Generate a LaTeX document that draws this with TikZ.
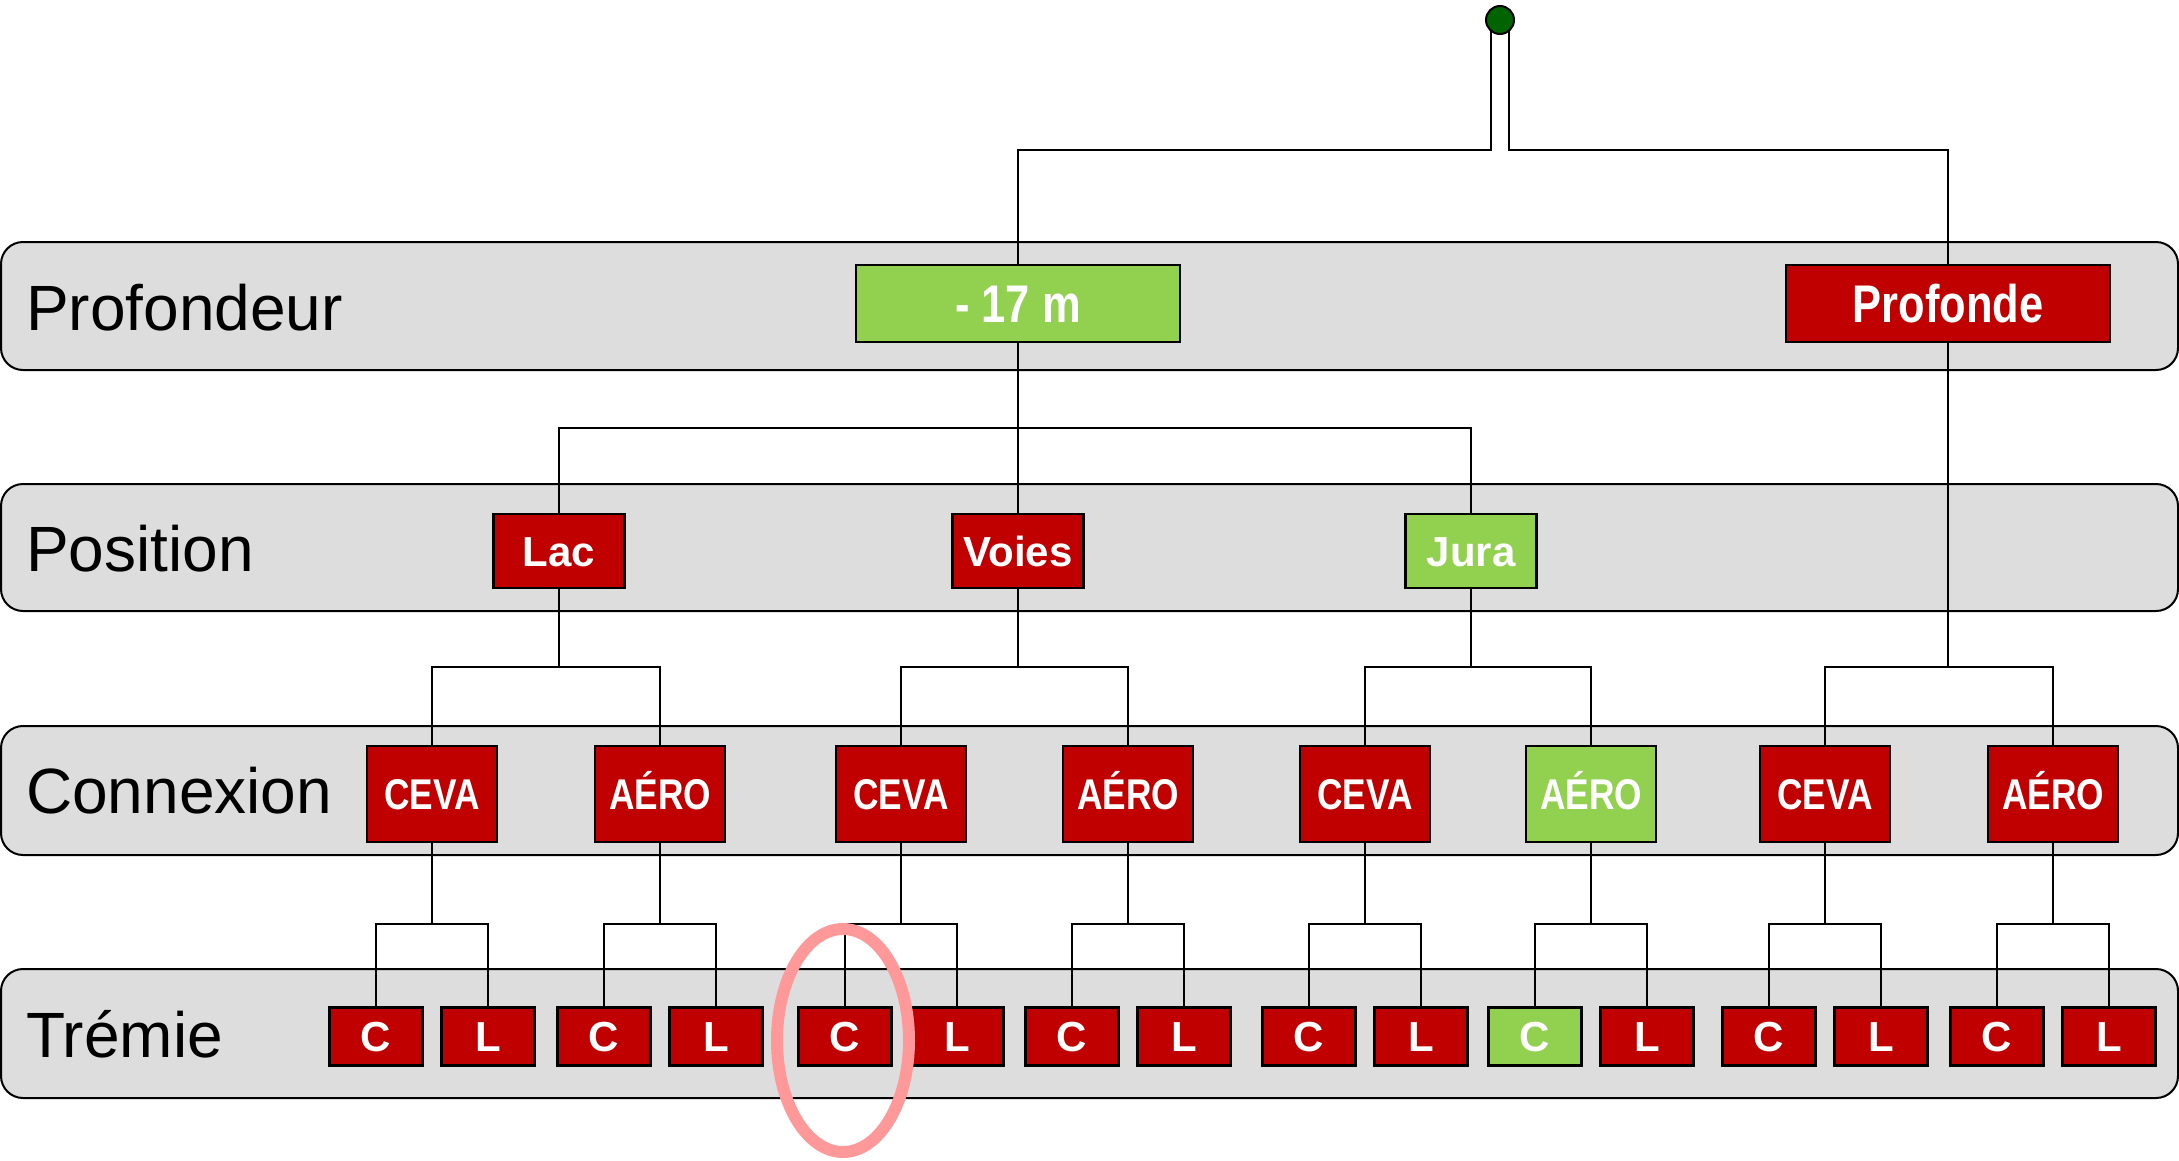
\documentclass[tikz,border=0pt]{standalone}
\usepackage{fontspec}
\setmainfont{Liberation Sans}
\definecolor{boxred}{RGB}{192,0,0}
\definecolor{boxgreen}{RGB}{146,208,80}
\definecolor{bandgray}{RGB}{221,221,221}
\definecolor{dotgreen}{RGB}{0,100,0}
\definecolor{pinkring}{RGB}{255,153,153}
\pgfdeclarelayer{bandlayer}
\pgfdeclarelayer{linelayer}
\pgfsetlayers{bandlayer,linelayer,main}
\newcommand\narrowtxt[1]{\scalebox{0.82}[1]{#1}}
\newcommand\treebranch[4]{%
  \draw[conn] (#1.south) -- (#1.south |- #4);
  \draw[conn] (#2.north) -- (#2.north |- #4) -- (#3.north |- #4) -- (#3.north);}
\begin{document}
\begin{tikzpicture}[x=1pt,y=-1pt,
  band/.style={draw=black, line width=2pt, fill=bandgray, rounded corners=22pt},
  conn/.style={draw=black, line width=2pt},
  lab/.style={anchor=base west, inner sep=0pt, font=\fontsize{64}{72}\selectfont},
  bx/.style={draw=black, line width=2.5pt, inner sep=0pt, text=white},
  bigbox/.style={bx, minimum width=324pt, minimum height=77pt, text height=38pt, text depth=0pt,
    font=\fontsize{53}{60}\selectfont\bfseries},
  posbox/.style={bx, minimum width=131pt, minimum height=74pt, text height=30pt, text depth=0pt,
    font=\fontsize{42}{48}\selectfont\bfseries},
  conbox/.style={bx, minimum width=130pt, minimum height=96pt, text height=31pt, text depth=0pt,
    font=\fontsize{43}{48}\selectfont\bfseries},
  trbox/.style={bx, minimum width=93pt, minimum height=58pt, text height=30pt, text depth=0pt,
    font=\fontsize{42}{48}\selectfont\bfseries},
]
\useasboundingbox (0,0) rectangle (2179,1160);
% bands
\begin{pgfonlayer}{bandlayer}
\draw[band] (1,242) rectangle (2178,370);
\draw[band] (1,484) rectangle (2178,611);
\draw[band] (1,726) rectangle (2178,855);
\draw[band] (1,969) rectangle (2178,1098);
\end{pgfonlayer}
% band labels
\node[lab] (lprof) at (26,330) {Profondeur};
\node[lab] (lpos) at (26,571.5) {Position};
\node[lab] (lcon) at (26,813) {Connexion};
\node[lab] (ltre) at (26,1057) {Trémie};
% level coordinates
\coordinate (y0) at (0,150);
\coordinate (y1) at (0,428);
\coordinate (y2) at (0,667);
\coordinate (y3) at (0,924);
% root
\node[circle, draw=black, line width=2pt, fill=dotgreen, minimum size=28pt, inner sep=0pt] (root) at (1500,20) {};
\coordinate (rl) at (1491,20);
\coordinate (rr) at (1509,20);
% nodes
\node[bigbox, fill=boxgreen] (d17) at (1018,303.5) {\narrowtxt{- 17 m}};
\node[bigbox, fill=boxred] (prof) at (1948,303.5) {\narrowtxt{Profonde}};
\node[posbox, fill=boxred] (lac) at (559,551) {Lac};
\node[posbox, fill=boxred] (voies) at (1018,551) {Voies};
\node[posbox, fill=boxgreen] (jura) at (1471,551) {Jura};
\foreach \i/\x/\col in {1/432/boxred,2/660/boxred,3/901/boxred,4/1128/boxred,5/1365/boxred,6/1591/boxgreen,7/1825/boxred,8/2053/boxred}{
  \node[conbox, fill=\col] (c\i) at (\x,794) {\narrowtxt{\ifodd\i CEVA\else AÉRO\fi}};
  \node[trbox, fill=\col] (t\i c) at (\x-56,1036.5) {C};
  \node[trbox, fill=boxred] (t\i l) at (\x+56,1036.5) {L};
}
% connectors
\begin{pgfonlayer}{linelayer}
\draw[conn] (rl) -- (rl |- y0) -| (d17.north);
\draw[conn] (rr) -- (rr |- y0) -| (prof.north);
\draw[conn] (d17.south) -- (voies.north);
\draw[conn] (lac.north) -- (lac.north |- y1) -- (jura.north |- y1) -- (jura.north);
\treebranch{lac}{c1}{c2}{y2}
\treebranch{voies}{c3}{c4}{y2}
\treebranch{jura}{c5}{c6}{y2}
\treebranch{prof}{c7}{c8}{y2}
\foreach \i in {1,...,8}{
  \treebranch{c\i}{t\i c}{t\i l}{y3}
}
\end{pgfonlayer}
% highlight ring
\draw[pinkring, line width=12pt] (843,1040.5) ellipse [x radius=66pt, y radius=111.5pt];
\end{tikzpicture}
\end{document}
